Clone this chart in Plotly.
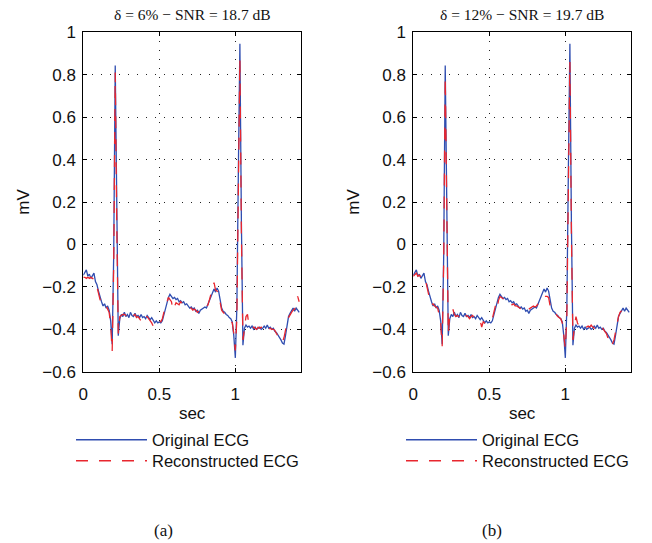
import plotly.graph_objects as go

# ---------------- data ----------------
SAMPLE_STEP = 0.01  # seconds between samples

original_ecg = [
    -0.145, -0.13, -0.12, -0.15, -0.14, -0.16, -0.15, -0.135, -0.175, -0.19,
    -0.22, -0.25, -0.27, -0.29, -0.28, -0.30, -0.29, -0.31, -0.36, -0.47,
    -0.05, 0.843, 0.15, -0.43, -0.35, -0.33, -0.34, -0.32, -0.34, -0.33,
    -0.345, -0.32, -0.335, -0.34, -0.325, -0.34, -0.335, -0.345, -0.33, -0.345,
    -0.34, -0.35, -0.335, -0.345, -0.355, -0.345, -0.36, -0.37, -0.36, -0.37,
    -0.365, -0.37, -0.36, -0.33, -0.30, -0.27, -0.25, -0.235, -0.245, -0.255,
    -0.25, -0.26, -0.255, -0.27, -0.265, -0.275, -0.27, -0.285, -0.28, -0.29,
    -0.30, -0.295, -0.305, -0.30, -0.315, -0.31, -0.325, -0.31, -0.305, -0.30,
    -0.295, -0.30, -0.28, -0.265, -0.24, -0.225, -0.21, -0.225, -0.205, -0.22,
    -0.27, -0.30, -0.315, -0.32, -0.33, -0.335, -0.345, -0.35, -0.365, -0.43,
    -0.535, -0.30, 0.35, 0.946, 0.10, -0.475, -0.395, -0.38, -0.39, -0.385,
    -0.395, -0.385, -0.40, -0.39, -0.40, -0.395, -0.39, -0.40, -0.395, -0.385,
    -0.395, -0.38, -0.395, -0.39, -0.40, -0.395, -0.41, -0.415, -0.425, -0.44,
    -0.45, -0.465, -0.47, -0.43, -0.38, -0.34, -0.325, -0.31, -0.30, -0.315,
    -0.30, -0.31, -0.32,
]

reconstructed_a = [
    -0.155, -0.155, -0.16, -0.155, -0.16, -0.155, -0.16, -0.165, -0.17, -0.20,
    -0.24, -0.26, -0.28, -0.285, -0.295, -0.29, -0.305, -0.32, -0.38, -0.505,
    -0.10, 0.81, 0.10, -0.42, -0.34, -0.335, -0.33, -0.33, -0.335, -0.33,
    -0.335, -0.34, -0.35, -0.335, -0.33, -0.345, -0.34, -0.35, -0.355, -0.37,
    -0.345, -0.34, -0.34, -0.35, -0.355, -0.37, -0.385, -0.39, -0.37, -0.365,
    -0.36, -0.365, -0.35, -0.32, -0.30, -0.28, -0.25, -0.26, -0.27, -0.31,
    -0.29, -0.275, -0.28, -0.285, -0.27, -0.28, -0.285, -0.28, -0.29, -0.295,
    -0.30, -0.30, -0.31, -0.305, -0.31, -0.32, -0.315, -0.31, -0.30, -0.305,
    -0.30, -0.29, -0.285, -0.26, -0.23, -0.20, -0.18, -0.215, -0.22, -0.235,
    -0.28, -0.31, -0.32, -0.33, -0.335, -0.34, -0.35, -0.355, -0.37, -0.42,
    -0.50, -0.35, 0.30, 0.874, 0.05, -0.45, -0.40, -0.34, -0.33, -0.385,
    -0.39, -0.395, -0.39, -0.395, -0.40, -0.39, -0.395, -0.39, -0.40, -0.39,
    -0.395, -0.39, -0.40, -0.395, -0.40, -0.40, -0.405, -0.42, -0.43, -0.45,
    -0.455, -0.46, -0.44, -0.40, -0.37, -0.345, -0.33, -0.32, -0.31, -0.305,
    -0.28, -0.245, -0.27,
]

reconstructed_b = [
    -0.15, -0.14, -0.135, -0.15, -0.145, -0.155, -0.15, -0.15, -0.165, -0.20,
    -0.235, -0.265, -0.285, -0.28, -0.29, -0.295, -0.30, -0.33, -0.37, -0.48,
    -0.08, 0.79, 0.12, -0.42, -0.33, -0.325, -0.305, -0.33, -0.34, -0.335,
    -0.34, -0.33, -0.345, -0.335, -0.34, -0.335, -0.34, -0.35, -0.34, -0.335,
    -0.345, -0.34, -0.345, -0.35, -0.36, -0.39, -0.365, -0.37, -0.365, -0.37,
    -0.365, -0.36, -0.35, -0.32, -0.29, -0.31, -0.265, -0.245, -0.25, -0.255,
    -0.26, -0.265, -0.27, -0.275, -0.27, -0.285, -0.28, -0.29, -0.29, -0.295,
    -0.30, -0.305, -0.30, -0.31, -0.31, -0.30, -0.305, -0.30, -0.295, -0.29,
    -0.295, -0.29, -0.28, -0.27, -0.255, -0.245, -0.245, -0.245, -0.245, -0.25,
    -0.29, -0.305, -0.32, -0.325, -0.33, -0.34, -0.345, -0.35, -0.37, -0.42,
    -0.49, -0.34, 0.30, 0.86, 0.05, -0.45, -0.39, -0.34, -0.37, -0.385,
    -0.39, -0.39, -0.385, -0.395, -0.39, -0.385, -0.39, -0.38, -0.39, -0.395,
    -0.385, -0.39, -0.395, -0.40, -0.39, -0.40, -0.41, -0.42, -0.44, -0.43,
    -0.455, -0.47, -0.45, -0.41, -0.37, -0.34, -0.32, -0.31, -0.305, -0.31,
    -0.30, -0.305, -0.295,
]

time_s = [round(i * SAMPLE_STEP, 2) for i in range(len(original_ecg))]

panel_titles = ["\u03b4 = 6% \u2212 SNR = 18.7 dB", "\u03b4 = 12% \u2212 SNR = 19.7 dB"]
panel_captions = ["(a)", "(b)"]
x_tick_vals = [0, 0.5, 1]
x_tick_text = ["0", "0.5", "1"]
y_tick_vals = [-0.6, -0.4, -0.2, 0, 0.2, 0.4, 0.6, 0.8, 1]
y_tick_text = ["\u22120.6", "\u22120.4", "\u22120.2", "0", "0.2", "0.4", "0.6", "0.8", "1"]

# ---------------- style ----------------
W, H = 652, 543
BLUE = "#2f4db0"
RED = "#e8262e"
SANS = "Liberation Sans, Arial, sans-serif"
SERIF = "Liberation Serif, Times New Roman, serif"
TXT = "#111111"

fig = go.Figure()

panels = [
    dict(rec=reconstructed_a, xa="x", ya="y", legs=("legend", "legend2")),
    dict(rec=reconstructed_b, xa="x2", ya="y2", legs=("legend3", "legend4")),
]
for p in panels:
    fig.add_trace(go.Scatter(
        x=time_s, y=original_ecg, mode="lines", name="Original ECG",
        line=dict(color=BLUE, width=1.3), xaxis=p["xa"], yaxis=p["ya"],
        legend=p["legs"][0], showlegend=True, hoverinfo="skip"))
    fig.add_trace(go.Scatter(
        x=time_s, y=p["rec"], mode="lines", name="Reconstructed ECG",
        line=dict(color=RED, width=1.3, dash="12px,11px"),
        xaxis=p["xa"], yaxis=p["ya"], legend=p["legs"][1], showlegend=True,
        hoverinfo="skip"))

x_domains = [[83.3 / W, 301 / W], [413.3 / W, 631 / W]]
y_domain = [1 - 371.7 / H, 1 - 32.3 / H]

common_axis = dict(
    showline=True, linecolor="black", linewidth=1, mirror="allticks",
    ticks="inside", ticklen=4, tickcolor="black", automargin=False,
    showgrid=True, gridcolor="#222222", gridwidth=1, griddash="1px,8px",
    zeroline=False, tickfont=dict(family=SANS, size=17, color=TXT),
)

layout_axes = {}
for i, name in enumerate(["", "2"]):
    layout_axes["xaxis" + name] = dict(
        common_axis, domain=x_domains[i], anchor="y" + name,
        range=[0, 1.432], tickvals=x_tick_vals, ticktext=x_tick_text,
        ticklabelstandoff=7,
        title=dict(text="sec", font=dict(family=SANS, size=17, color=TXT), standoff=4),
    )
    layout_axes["yaxis" + name] = dict(
        common_axis, domain=y_domain, anchor="x" + name,
        range=[-0.6, 1], tickvals=y_tick_vals, ticktext=y_tick_text,
        ticklabelstandoff=3,
        title=dict(text="mV", font=dict(family=SANS, size=17, color=TXT), standoff=8),
    )

annotations = []
for i in range(2):
    cx = (x_domains[i][0] + x_domains[i][1]) / 2
    annotations.append(dict(
        text=panel_titles[i], x=cx, y=1 - 14 / H, xref="paper", yref="paper",
        xanchor="center", yanchor="middle", showarrow=False,
        font=dict(family=SERIF, size=15.5, color=TXT)))
for i, cx in enumerate([163 / W, 492 / W]):
    annotations.append(dict(text=panel_captions[i], x=cx, y=1 - 530 / H,
                            xref="paper", yref="paper", xanchor="center", yanchor="middle",
                            showarrow=False, font=dict(family=SERIF, size=17, color=TXT)))

legend_common = dict(
    xanchor="left", yanchor="middle", visible=True,
    font=dict(family=SANS, size=16.5, color=TXT),
    bgcolor="rgba(0,0,0,0)", borderwidth=0, itemwidth=71,
    tracegroupgap=0, itemclick=False, itemdoubleclick=False,
)

fig.update_layout(
    width=W, height=H, margin=dict(l=0, r=0, t=0, b=0),
    paper_bgcolor="white", plot_bgcolor="white",
    showlegend=True,
    annotations=annotations,
    legend=dict(legend_common, x=71 / W, y=1 - 440 / H),
    legend2=dict(legend_common, x=71 / W, y=1 - 461 / H),
    legend3=dict(legend_common, x=401 / W, y=1 - 440 / H),
    legend4=dict(legend_common, x=401 / W, y=1 - 461 / H),
    **layout_axes,
)

# remove the browser's default 8px page margin so the figure fills the window
fig.write_html("out.html", config={"displayModeBar": False},
               post_script="document.body.style.margin='0';")
